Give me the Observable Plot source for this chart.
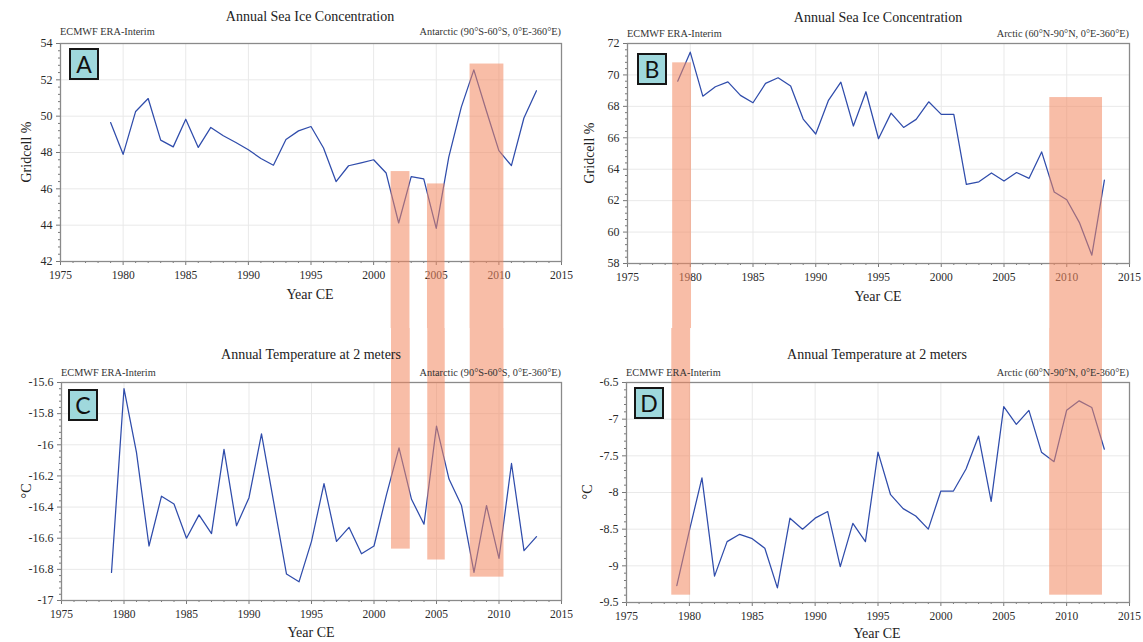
<!DOCTYPE html>
<html><head><meta charset="utf-8">
<script src="https://cdn.jsdelivr.net/npm/d3@7"></script>
<script src="https://cdn.jsdelivr.net/npm/@observablehq/plot@0.6"></script>
<style>
body{margin:0;background:#fff;}
#root{position:relative;width:1143px;height:642px;overflow:hidden;background:#fff;font-family:"Liberation Serif","Times New Roman",serif;}
.panel{position:absolute;}
.panel svg{max-width:none;font-family:"Liberation Serif","Times New Roman",serif !important;}
.panel svg text{font-family:"Liberation Serif","Times New Roman",serif;}
.t{position:absolute;line-height:1;white-space:nowrap;color:#222;}
.title{font-size:14px;transform:translateX(-50%);}
.src{font-size:10.3px;color:#333;}
.reg{font-size:10.3px;color:#333;transform:translateX(-100%);}
.xl{font-size:14px;transform:translate(-50%,-50%);}
.yl{font-size:14px;transform:translate(-50%,-50%) rotate(-90deg);}
.box{position:absolute;box-sizing:border-box;width:30px;height:32px;background:#9fd8dc;border:2.5px solid #161616;display:flex;align-items:center;justify-content:center;font-family:Lato,"Open Sans",sans-serif;font-size:23px;color:#111;line-height:1;}
</style></head><body><div id="root"></div>
<script>
// ---------- data ----------
const years = [1979,1980,1981,1982,1983,1984,1985,1986,1987,1988,1989,1990,1991,1992,1993,1994,1995,1996,1997,1998,1999,2000,2001,2002,2003,2004,2005,2006,2007,2008,2009,2010,2011,2012,2013];
const antarcticIce = [49.65,47.9,50.26,50.97,48.68,48.31,49.83,48.28,49.38,48.92,48.55,48.15,47.67,47.3,48.72,49.19,49.43,48.25,46.4,47.27,47.43,47.6,46.87,44.12,46.67,46.55,43.82,47.75,50.5,52.55,50.3,48.1,47.28,49.9,51.4];
const arcticIce = [69.6,71.45,68.65,69.25,69.56,68.7,68.23,69.46,69.82,69.29,67.19,66.24,68.36,69.54,66.75,68.93,65.94,67.57,66.66,67.17,68.29,67.49,67.49,63.04,63.2,63.76,63.25,63.79,63.42,65.1,62.55,62.06,60.62,58.53,63.3];
const antarcticTemp = [-16.82,-15.64,-16.05,-16.65,-16.33,-16.38,-16.6,-16.45,-16.57,-16.03,-16.52,-16.34,-15.93,-16.38,-16.83,-16.88,-16.62,-16.25,-16.62,-16.53,-16.7,-16.65,-16.32,-16.02,-16.35,-16.51,-15.88,-16.22,-16.39,-16.82,-16.39,-16.73,-16.12,-16.68,-16.59];
const arcticTemp = [-9.27,-8.52,-7.8,-9.14,-8.67,-8.57,-8.63,-8.76,-9.3,-8.35,-8.5,-8.35,-8.26,-9.01,-8.42,-8.67,-7.45,-8.03,-8.22,-8.32,-8.5,-7.98,-7.98,-7.68,-7.23,-8.12,-6.83,-7.07,-6.88,-7.45,-7.58,-6.88,-6.75,-6.84,-7.41];

// highlighted periods (years) with the extent of the shading in each panel's units
const antBarStart = [2001.4, 2004.3, 2007.7];
const antBarEnd = [2002.9, 2005.7, 2010.4];
const antBarIceTop = [46.95, 46.27, 52.87];
const antBarTempBottom = [-16.67, -16.74, -16.85];
const arcBarStart = [1978.6, 2008.65];
const arcBarEnd = [1980.1, 2012.85];
const arcBarIceTop = [70.77, 68.56];
const arcBarTempBottom = [-9.4, -9.4];

// tick labels
const xTicks = [1975,1980,1985,1990,1995,2000,2005,2010,2015];
const iceTicksA = [42,44,46,48,50,52,54];
const iceTicksB = [58,60,62,64,66,68,70,72];
const tempTicksC = [-17,-16.8,-16.6,-16.4,-16.2,-16,-15.8,-15.6];
const tempTicksD = [-9.5,-9,-8.5,-8,-7.5,-7,-6.5];

const titleTop = "Annual Sea Ice Concentration";
const titleBottom = "Annual Temperature at 2 meters";
const source = "ECMWF ERA-Interim";
const regionAnt = "Antarctic (90°S-60°S, 0°E-360°E)";
const regionArc = "Arctic (60°N-90°N, 0°E-360°E)";

// ---------- drawing ----------
const root = document.getElementById("root");
const SERIF = '"Liberation Serif","Times New Roman",serif';
const LINE = "#2f4cab";
const SHADE = "#f2875f";

function minorTicks(ticks, n) {
  const out = [];
  for (let i = 0; i < ticks.length - 1; i++) {
    const a = ticks[i], b = ticks[i + 1];
    for (let k = 1; k < n; k++) out.push(a + (b - a) * k / n);
  }
  return out;
}

function panel(o) {
  const rows = years.map((yr, i) => ({year: yr, v: o.values[i]}));
  const bars = o.barStart.map((s, i) => ({s, e: o.barEnd[i], lim: o.barLimit[i]}));
  const ydom = [o.yTicks[0], o.yTicks[o.yTicks.length - 1]];
  const rectOpts = o.top
    ? {x1: "s", x2: "e", y1: "lim", y2: () => ydom[0], insetBottom: -o.mb}
    : {x1: "s", x2: "e", y1: () => ydom[1], y2: "lim", insetTop: -o.mt};
  const chart = Plot.plot({
    width: o.w, height: o.h,
    marginLeft: o.ml, marginRight: o.mr, marginTop: o.mt, marginBottom: o.mb,
    style: {fontFamily: SERIF, color: "#2b2b2b", background: "transparent", overflow: "visible"},
    x: {domain: [1975, 2015]},
    y: {domain: ydom},
    marks: [
      Plot.gridX(xTicks, {stroke: "#e9e9e9", strokeOpacity: 1}),
      Plot.gridY(o.yTicks, {stroke: "#e9e9e9", strokeOpacity: 1}),
      Plot.axisX(minorTicks(xTicks, 5), {tickSize: 2, tickFormat: () => "", stroke: "#777", label: null}),
      Plot.axisX(xTicks, {tickSize: 4, tickPadding: 5, tickFormat: d => String(d), fontSize: 11.5, fontFamily: SERIF, stroke: "#777", label: null}),
      Plot.axisY(minorTicks(o.yTicks, 5), {tickSize: 2, tickFormat: () => "", stroke: "#777", label: null}),
      Plot.axisY(o.yTicks, {tickSize: 4, tickPadding: 4, tickFormat: d => String(d), fontSize: 12, fontFamily: SERIF, stroke: "#777", label: null}),
      Plot.frame({stroke: "#8a8a8a", strokeWidth: 1.3}),
      Plot.line(rows, {x: "year", y: "v", stroke: LINE, strokeWidth: 1.25}),
      Plot.rect(bars, {...rectOpts, fill: SHADE, fillOpacity: 0.55})
    ]
  });
  const div = document.createElement("div");
  div.className = "panel";
  div.style.left = o.left + "px"; div.style.top = o.topPx + "px";
  div.style.width = o.w + "px"; div.style.height = o.h + "px";
  div.appendChild(chart);
  root.appendChild(div);
}

function text(cls, str, x, y) {
  const d = document.createElement("div");
  d.className = "t " + cls;
  d.textContent = str;
  d.style.left = x + "px"; d.style.top = y + "px";
  root.appendChild(d);
}
function box(letter, x, y) {
  const d = document.createElement("div");
  d.className = "box";
  d.textContent = letter;
  d.style.left = x + "px"; d.style.top = y + "px";
  root.appendChild(d);
}

panel({values: antarcticIce, yTicks: iceTicksA, barStart: antBarStart, barEnd: antBarEnd, barLimit: antBarIceTop, top: true,
  left: 0, topPx: 0, w: 575, h: 328, ml: 60, mr: 14, mt: 43, mb: 67});
panel({values: arcticIce, yTicks: iceTicksB, barStart: arcBarStart, barEnd: arcBarEnd, barLimit: arcBarIceTop, top: true,
  left: 575, topPx: 0, w: 568, h: 328, ml: 52, mr: 14, mt: 43, mb: 65});
panel({values: antarcticTemp, yTicks: tempTicksC, barStart: antBarStart, barEnd: antBarEnd, barLimit: antBarTempBottom, top: false,
  left: 0, topPx: 328, w: 575, h: 314, ml: 61, mr: 14, mt: 54, mb: 42});
panel({values: arcticTemp, yTicks: tempTicksD, barStart: arcBarStart, barEnd: arcBarEnd, barLimit: arcBarTempBottom, top: false,
  left: 575, topPx: 328, w: 568, h: 314, ml: 51, mr: 14, mt: 54, mb: 40});

// titles and annotations
text("title", titleTop, 310, 10);
text("title", titleTop, 878, 11);
text("title", titleBottom, 311, 348);
text("title", titleBottom, 877, 348);
text("src", source, 60, 27);
text("src", source, 627, 29);
text("src", source, 61, 368);
text("src", source, 626, 368);
text("reg", regionAnt, 561, 27);
text("reg", regionArc, 1129, 29);
text("reg", regionAnt, 561, 368);
text("reg", regionArc, 1129, 368);
text("xl", "Year CE", 310, 295);
text("xl", "Year CE", 878, 297);
text("xl", "Year CE", 311, 633);
text("xl", "Year CE", 877, 634);
text("yl", "Gridcell %", 27, 152);
text("yl", "Gridcell %", 590, 153);
text("yl", "°C", 27, 491);
text("yl", "°C", 588, 492);

box("A", 69, 48);
box("B", 637, 53);
box("C", 68, 389);
box("D", 634, 387);
</script>
</body></html>
